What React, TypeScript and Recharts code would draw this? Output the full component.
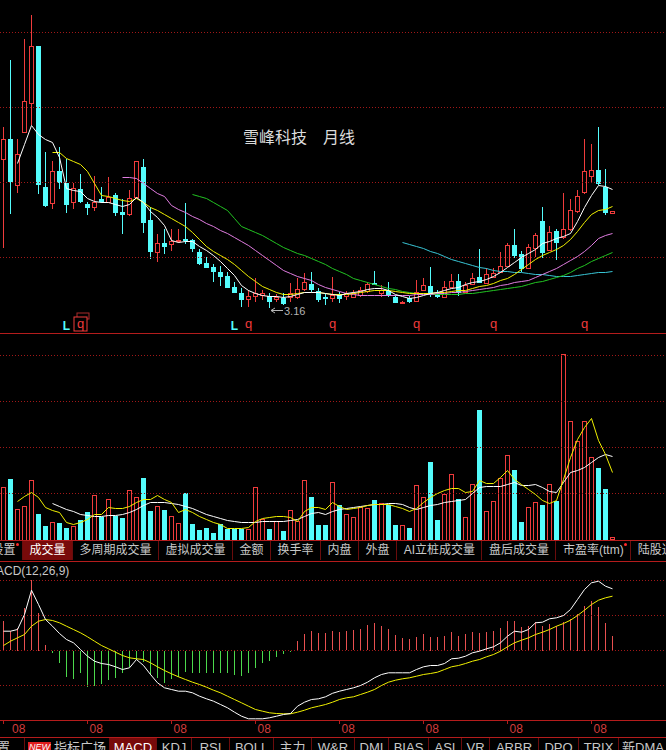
import React from 'react';
import { ComposedChart, Bar, Line, XAxis, YAxis, Scatter, ReferenceLine } from 'recharts';

// 雪峰科技 月线 — 88 monthly bars, one every 7px
const xTickIdx = [0, 12, 24, 36, 48, 60, 72, 84];
const xTickLabels = ['08', '08', '08', '08', '08', '08', '08', '08'];

const open = [
  17.96, 20.06, 15.46, 20.76, 23.66, 29.26, 15.26, 13.56, 16.76, 15.66,
  13.66, 15.06, 13.46, 13.16, 13.96, 13.76, 14.46, 12.76, 12.46, 14.26,
  17.16, 11.96, 8.76, 9.56, 9.46, 9.86, 10.06, 9.96, 8.76, 7.66,
  7.26, 6.76, 6.36, 5.26, 4.66, 4.06, 4.36, 4.46, 4.36, 4.06,
  4.16, 4.26, 4.26, 5.06, 5.56, 4.86, 4.26, 4.16, 4.46, 4.36,
  4.26, 4.46, 4.86, 5.66, 4.66, 4.86, 4.26, 3.66, 4.16, 3.86,
  4.96, 5.36, 4.56, 4.26, 5.26, 5.86, 4.76, 5.56, 6.26, 5.66,
  6.26, 6.76, 7.36, 9.46, 8.46, 7.16, 9.16, 11.86, 8.86, 10.86,
  10.16, 10.96, 12.76, 14.66, 16.26, 16.86, 15.16, 12.56,
];
const high = [
  21.16, 27.86, 19.96, 29.96, 32.36, 29.26, 18.66, 17.76, 19.16, 18.06,
  15.56, 16.56, 13.76, 16.26, 15.26, 16.16, 14.66, 13.96, 14.86, 17.86,
  17.96, 13.26, 10.46, 10.96, 10.96, 11.06, 13.66, 10.06, 9.06, 8.26,
  7.56, 7.36, 6.76, 5.76, 5.16, 4.96, 6.16, 4.96, 4.66, 4.56,
  4.66, 5.66, 6.16, 6.66, 6.76, 5.16, 4.66, 6.26, 4.76, 4.86,
  4.96, 5.26, 5.76, 6.86, 5.46, 5.76, 4.46, 3.86, 4.36, 5.96,
  6.16, 7.26, 4.96, 5.86, 6.56, 6.56, 5.76, 6.66, 9.06, 7.16,
  7.16, 8.66, 9.66, 11.06, 8.76, 9.46, 10.66, 13.26, 11.26, 10.96,
  14.66, 13.96, 14.86, 19.96, 19.56, 21.16, 17.06, 12.76,
];
const low = [
  9.16, 12.56, 14.66, 20.66, 21.46, 14.46, 13.26, 12.96, 14.96, 12.66,
  12.96, 13.66, 12.36, 12.76, 13.56, 13.66, 12.26, 10.56, 12.26, 13.96,
  10.66, 8.06, 7.76, 8.46, 8.76, 9.66, 9.56, 8.66, 7.46, 7.16,
  5.76, 5.36, 5.26, 4.66, 3.26, 3.26, 3.76, 3.96, 3.16, 3.76,
  3.46, 3.76, 4.06, 4.86, 4.76, 3.76, 3.46, 3.76, 3.66, 3.96,
  4.16, 4.26, 4.66, 5.46, 4.26, 4.26, 3.66, 3.56, 3.66, 3.76,
  4.86, 4.26, 4.16, 4.16, 5.16, 4.36, 4.66, 5.46, 5.66, 5.56,
  6.16, 6.66, 7.26, 8.16, 6.76, 7.06, 8.26, 8.16, 8.76, 7.96,
  9.96, 10.76, 12.56, 14.46, 15.66, 15.36, 12.36, 12.56,
];
const close = [
  20.06, 15.86, 18.56, 23.86, 29.26, 15.46, 13.46, 16.76, 15.66, 13.56,
  15.06, 13.86, 13.16, 13.66, 13.76, 14.26, 12.66, 12.46, 14.06, 17.76,
  11.76, 8.86, 9.56, 9.36, 9.76, 9.96, 9.96, 9.06, 7.66, 7.26,
  6.86, 6.36, 5.26, 4.76, 4.06, 4.36, 4.66, 4.66, 3.86, 4.26,
  3.66, 4.66, 5.06, 5.76, 5.06, 4.06, 4.16, 4.46, 4.16, 4.66,
  4.66, 4.96, 5.56, 5.56, 4.96, 4.56, 3.76, 3.76, 3.86, 4.76,
  5.46, 4.66, 4.36, 5.26, 5.86, 4.76, 5.46, 6.16, 5.76, 6.56,
  6.66, 7.36, 9.46, 8.46, 7.16, 9.16, 10.46, 8.76, 10.66, 9.76,
  10.96, 12.86, 14.26, 16.76, 16.86, 15.56, 12.66, 12.76,
];

// moving averages as drawn, each starting at its first visible bar
const ma5Start = 2;
const ma5 = [
  17.56, 19.46, 21.36, 20.46, 19.96, 19.66, 18.16, 15.06, 14.86, 14.76,
  14.06, 13.76, 13.66, 13.66, 13.46, 13.26, 13.46, 14.16, 13.66, 12.76,
  12.16, 11.36, 9.86, 9.66, 9.76, 9.76, 9.26, 8.86, 8.36, 7.76,
  7.06, 6.36, 5.36, 4.86, 4.56, 4.36, 4.26, 4.26, 4.16, 4.26,
  4.46, 4.66, 4.66, 4.66, 4.56, 4.46, 4.36, 4.56, 4.66, 4.76,
  4.96, 5.06, 5.06, 4.86, 4.46, 4.26, 4.06, 4.16, 4.36, 4.56,
  4.66, 4.86, 5.06, 5.16, 5.46, 5.66, 5.76, 5.96, 6.26, 6.66,
  7.16, 7.66, 8.16, 8.56, 8.96, 9.56, 9.76, 10.06, 10.26, 10.56,
  11.76, 13.16, 14.36, 15.36, 15.26, 14.96,
];
const ma10Start = 7;
const ma10 = [
  18.66, 18.66, 18.06, 17.76, 17.46, 16.76, 15.56, 14.36, 14.26, 14.06,
  13.86, 13.76, 14.06, 13.66, 13.16, 12.86, 12.46, 12.06, 11.66, 11.26,
  10.66, 9.96, 9.26, 8.76, 8.36, 7.96, 7.46, 6.86, 6.26, 5.76,
  5.26, 4.96, 4.66, 4.46, 4.46, 4.56, 4.66, 4.66, 4.66, 4.56,
  4.46, 4.46, 4.46, 4.56, 4.66, 4.76, 4.86, 4.86, 4.86, 4.76,
  4.66, 4.56, 4.56, 4.56, 4.56, 4.66, 4.66, 4.76, 4.86, 4.86,
  5.06, 5.26, 5.36, 5.56, 5.86, 6.06, 6.46, 6.96, 7.46, 7.96,
  8.36, 8.66, 8.96, 9.36, 9.96, 10.76, 11.66, 12.46, 12.86, 12.96,
  13.26,
];
const ma20Start = 17;
const ma20 = [
  16.16, 16.16, 16.06, 15.56, 15.06, 14.56, 14.26, 13.36, 12.96, 12.66,
  12.26, 11.96, 11.56, 11.26, 10.86, 10.56, 10.16, 9.76, 9.36, 8.86,
  8.36, 7.86, 7.36, 6.86, 6.56, 6.26, 6.06, 5.86, 5.46, 5.16,
  4.96, 4.76, 4.56, 4.46, 4.36, 4.36, 4.36, 4.36, 4.36, 4.36,
  4.36, 4.36, 4.46, 4.46, 4.46, 4.56, 4.56, 4.66, 4.66, 4.76,
  4.86, 4.96, 5.06, 5.16, 5.36, 5.46, 5.66, 5.76, 5.86, 6.16,
  6.46, 6.76, 7.06, 7.46, 7.86, 8.26, 8.76, 9.36, 10.06, 10.36,
  10.56,
];
const ma30Start = 27;
const ma30 = [
  14.46, 14.26, 14.06, 13.66, 13.26, 12.86, 12.06, 11.26, 10.96, 10.66,
  10.36, 9.96, 9.56, 9.16, 8.86, 8.56, 8.36, 8.06, 7.76, 7.46,
  7.06, 6.76, 6.46, 6.06, 5.86, 5.66, 5.46, 5.26, 5.06, 4.96,
  4.76, 4.66, 4.56, 4.56, 4.46, 4.46, 4.46, 4.46, 4.46, 4.56,
  4.56, 4.66, 4.76, 4.86, 4.96, 5.06, 5.16, 5.26, 5.46, 5.66,
  5.76, 5.96, 6.16, 6.36, 6.66, 7.06, 7.36, 7.76, 8.06, 8.36,
  8.66,
];
const ma60Start = 57;
const ma60 = [
  9.66, 9.46, 9.26, 9.06, 8.76, 8.56, 8.26, 7.96, 7.76, 7.56,
  7.36, 7.16, 7.06, 6.86, 6.76, 6.76, 6.66, 6.66, 6.56, 6.46,
  6.46, 6.36, 6.26, 6.26, 6.26, 6.36, 6.46, 6.56, 6.66, 6.66,
  6.76,
];

// 成交量 (万手)
const volume = [
  530, 610, 310, 340, 590, 260, 140, 180, 170, 120,
  140, 200, 280, 450, 230, 410, 240, 220, 500, 430,
  620, 290, 340, 300, 240, 170, 470, 160, 100, 120,
  70, 160, 110, 110, 110, 110, 530, 210, 110, 190,
  90, 300, 190, 590, 430, 150, 150, 580, 350, 260,
  230, 330, 320, 400, 370, 350, 150, 150, 120, 550,
  430, 780, 200, 460, 660, 410, 230, 560, 1300, 290,
  390, 620, 840, 700, 180, 330, 380, 350, 560, 390,
  1860, 1180, 980, 1190, 830, 720, 510, 30,
];
const volMa5Start = 2;
const volMa5 = [
  380, 430, 470, 420, 320, 290, 270, 170, 150, 170,
  200, 250, 250, 320, 310, 310, 330, 370, 400, 400,
  440, 400, 370, 270, 300, 270, 230, 200, 170, 150,
  110, 110, 110, 120, 180, 210, 220, 230, 230, 220,
  180, 280, 320, 320, 300, 370, 330, 300, 310, 320,
  340, 350, 350, 350, 330, 310, 280, 310, 370, 420,
  460, 490, 510, 510, 470, 480, 590, 560, 560, 620,
  690, 600, 550, 500, 450, 390, 360, 390, 600, 820,
  1000, 1120, 1210, 990, 850, 670,
];
const volMa10Start = 7;
const volMa10 = [
  360, 330, 300, 280, 250, 240, 230, 230, 240, 240,
  250, 270, 300, 340, 370, 370, 370, 360, 350, 330,
  310, 280, 250, 230, 210, 190, 180, 170, 170, 170,
  180, 180, 180, 180, 190, 200, 230, 260, 270, 250,
  280, 300, 310, 320, 330, 340, 350, 350, 360, 360,
  350, 320, 300, 320, 340, 350, 370, 380, 390, 400,
  460, 520, 530, 530, 530, 550, 570, 540, 540, 550,
  520, 480, 470, 570, 670, 690, 720, 770, 820, 850,
  830,
];

// MACD(12,26,9)
const macdHist = [
  2.93, 1.93, 2.27, 4.27, 7.03, 3.77, 0.6, -0.23, -1.23, -2.63,
  -2.83, -2.23, -3.57, -3.5, -3.3, -2.9, -2.73, -2.23, -1.57, -0.9,
  -1.07, -2.4, -2.73, -3.17, -2.83, -2.57, -2.07, -2.17, -2.17, -2.23,
  -2.23, -2.23, -2.23, -2.4, -2.5, -2.17, -1.73, -1.23, -0.97, -0.63,
  -0.3, -0.1, 0.93, 1.7, 2.0, 1.77, 1.77, 1.93, 1.83, 1.93,
  2.03, 2.2, 2.53, 2.7, 2.5, 2.1, 1.6, 1.27, 1.1, 1.33,
  1.7, 1.37, 1.33, 1.5, 1.83, 1.5, 1.7, 1.83, 1.77, 1.83,
  1.93, 2.27, 2.93, 2.93, 2.33, 2.5, 2.83, 2.5, 2.67, 2.43,
  2.83, 3.1, 3.67, 4.5, 4.93, 4.33, 2.77, 1.43,
];
const dif = [
  1.93, 1.93, 2.1, 3.6, 6.03, 4.6, 3.1, 2.43, 1.7, 1.1,
  0.77, 0.1, -0.57, -1.07, -1.3, -1.4, -1.63, -1.9, -1.73, -0.9,
  -1.5, -2.4, -3.23, -3.73, -3.9, -4.07, -4.07, -4.23, -4.57, -4.83,
  -5.07, -5.4, -5.73, -6.17, -6.57, -6.83, -6.83, -6.83, -6.73, -6.57,
  -6.4, -6.3, -5.57, -5.17, -4.9, -4.83, -4.63, -4.28, -4.07, -3.9,
  -3.73, -3.5, -3.17, -2.73, -2.4, -2.23, -2.23, -2.23, -2.23, -1.9,
  -1.63, -1.5, -1.5, -1.3, -0.83, -0.77, -0.57, -0.23, -0.07, 0.17,
  0.37, 0.77, 1.43, 1.93, 1.83, 2.1, 2.77, 2.83, 3.17, 3.27,
  3.5, 4.1, 5.1, 6.1, 6.77, 6.93, 6.43, 6.17,
];
const dea = [
  0.5, 0.93, 1.27, 1.6, 2.43, 2.93, 3.1, 3.0, 2.77, 2.43,
  2.1, 1.77, 1.37, 0.93, 0.5, 0.17, -0.17, -0.5, -0.73, -0.83,
  -0.9, -1.23, -1.63, -2.0, -2.33, -2.63, -2.9, -3.17, -3.4, -3.67,
  -3.97, -4.23, -4.57, -4.9, -5.23, -5.57, -5.9, -6.07, -6.23, -6.3,
  -6.33, -6.33, -6.17, -5.97, -5.73, -5.57, -5.4, -5.17, -4.9, -4.73,
  -4.63, -4.4, -4.17, -3.9, -3.5, -3.17, -2.97, -2.83, -2.73, -2.57,
  -2.4, -2.3, -2.17, -1.9, -1.63, -1.5, -1.3, -1.07, -0.9, -0.63,
  -0.4, -0.07, 0.37, 0.77, 1.03, 1.27, 1.6, 1.83, 2.1, 2.43,
  2.7, 3.03, 3.5, 4.03, 4.6, 5.03, 5.27, 5.43,
];

// signal marks under the candles
const markL = [9, 33];
const markQ = [11, 35, 47, 59, 70, 83];
const boxedQ = [11];

const volTabs = ['设置', '成交量', '多周期成交量', '虚拟成交量', '金额', '换手率', '内盘', '外盘', 'AI立桩成交量', '盘后成交量', '市盈率(ttm)', '陆股通持股'];
const volTabDots = ['设置', '市盈率(ttm)'];
const bottomTabs = ['设置', '指标广场', 'MACD', 'KDJ', 'RSI', 'BOLL', '主力', 'W&R', 'DMI', 'BIAS', 'ASI', 'VR', 'ARBR', 'DPO', 'TRIX', '新DMA'];
const bottomSeps = [-30, 23, 108, 155, 190, 228, 272, 310, 353, 387, 427, 460, 488, 537, 577, 617, 666];

const W = 666;
const X_DOMAIN: [number, number] = [-0.5, W / 7 - 0.5];
const PRICE_DOMAIN: [number, number] = [0.61, 33.91];
const priceGrid = [8.16, 15.66, 23.16, 30.66];
const MARK_LEVEL = 1.46;
const VOL_DOMAIN: [number, number] = [-5, 2035];
const volGrid = [460, 920, 1380, 1840];
const MACD_DOMAIN: [number, number] = [-6.95, 8.85];
const macdGrid = [-3.5, 0, 3.5, 7];

const UP = '#f03c3c';
const DOWN = '#54fcfc';
const GRID = '#a01818';
const AXIS = '#b41c1c';
const FONT = '"Liberation Sans", "Noto Sans CJK SC", sans-serif';

const pick = (arr: number[], start: number, i: number) => (i >= start && i - start < arr.length ? arr[i - start] : null);

const rows = open.map((o, i) => ({
  i,
  open: o,
  high: high[i],
  low: low[i],
  close: close[i],
  range: [low[i], high[i]],
  ma5: pick(ma5, ma5Start, i),
  ma10: pick(ma10, ma10Start, i),
  ma20: pick(ma20, ma20Start, i),
  ma30: pick(ma30, ma30Start, i),
  ma60: pick(ma60, ma60Start, i),
  vol: volume[i],
  volMa5: pick(volMa5, volMa5Start, i),
  volMa10: pick(volMa10, volMa10Start, i),
  hist: macdHist[i],
  dif: dif[i],
  dea: dea[i],
}));

const lowIdx = low.indexOf(Math.min(...low));

const markers = [
  ...markL.map((i) => ({ i, y: MARK_LEVEL, t: 'L', boxed: false })),
  ...markQ.map((i) => ({ i, y: MARK_LEVEL, t: 'q', boxed: boxedQ.includes(i) })),
];

// hollow 5px box made of 1px filled rects, so the outline stays crisp
function HollowBox({ k, top, bot, color, noBottom }: { k: number; top: number; bot: number; color: string; noBottom?: boolean }) {
  const h = Math.max(bot - top, 1);
  return (
    <g fill={color}>
      <rect x={k - 2} y={top} width={5} height={1} />
      <rect x={k - 2} y={top} width={1} height={h} />
      <rect x={k + 2} y={top} width={1} height={h} />
      {!noBottom && <rect x={k - 2} y={top + h - 1} width={5} height={1} />}
    </g>
  );
}

function Candle(props: any) {
  const { x, y, width, height, payload } = props;
  const { open: o, close: c, high: h, low: l, i } = payload;
  const span = h - l || 1;
  const py = (v: number) => y + ((h - v) / span) * height;
  const k = Math.floor(x + width / 2);
  const yh = Math.round(py(h));
  const yl = Math.round(py(l));
  const top = Math.round(py(Math.max(o, c)));
  const bot = Math.max(Math.round(py(Math.min(o, c))) + 1, top + 1);
  const up = c >= o;
  const note = i === lowIdx ? (
    <g>
      <line x1={k + 2} y1={yl + 2.5} x2={k + 14} y2={yl + 2.5} stroke="#b4b4b4" />
      <path d={`M${k + 6},${yl} L${k + 2},${yl + 2.5} L${k + 6},${yl + 5}`} fill="none" stroke="#b4b4b4" />
      <text x={k + 15} y={yl + 7} fontSize={11} fill="#b4b4b4" fontFamily={FONT}>{l.toFixed(2)}</text>
    </g>
  ) : null;
  if (up) {
    return (
      <g>
        <rect x={k} y={yh} width={1} height={Math.max(top - yh, 0)} fill={UP} />
        <rect x={k} y={bot} width={1} height={Math.max(yl - bot, 0)} fill={UP} />
        <HollowBox k={k} top={top} bot={bot} color={UP} />
        {note}
      </g>
    );
  }
  return (
    <g>
      <rect x={k} y={yh} width={1} height={Math.max(yl - yh, 1)} fill={DOWN} />
      <rect x={k - 2} y={top} width={5} height={bot - top} fill={DOWN} />
      {note}
    </g>
  );
}

function VolBar(props: any) {
  const { x, y, width, height, payload } = props;
  const k = Math.floor(x + width / 2);
  const top = Math.round(y);
  const bot = Math.round(y + height);
  if (payload.close >= payload.open) {
    return <HollowBox k={k} top={top} bot={bot} color={UP} noBottom={bot - top > 3} />;
  }
  return <rect x={k - 2} y={top} width={5} height={Math.max(bot - top, 1)} fill={DOWN} />;
}

function MacdBar(props: any) {
  const { x, y, width, height, payload } = props;
  let top = y;
  let h = height;
  if (h < 0) {
    top = y + h;
    h = -h;
  }
  return (
    <rect
      x={Math.floor(x + width / 2)}
      y={Math.round(top)}
      width={1}
      height={Math.max(Math.round(h), 1)}
      fill={payload.hist >= 0 ? '#e85050' : '#4cd84c'}
    />
  );
}

function Marker(props: any) {
  const { cx, cy, payload } = props;
  const isL = payload.t === 'L';
  const x = Math.floor(cx) + 0.5;
  return (
    <g>
      {payload.boxed && (
        <g>
          <rect x={x - 3.5} y={cy - 11.5} width={12} height={6} fill="none" stroke={UP} strokeOpacity={0.7} />
          <rect x={x - 6.5} y={cy - 7.5} width={13} height={14} fill="#000" stroke={UP} />
        </g>
      )}
      <text x={x} y={isL ? cy + 5 : cy + 3} textAnchor="middle" fontSize={isL ? 12 : 13} fontWeight={isL ? 700 : 400} fill={isL ? DOWN : UP} fontFamily={FONT}>
        {payload.t}
      </text>
    </g>
  );
}

function MonthTick(props: any) {
  const { x, y, payload } = props;
  const k = xTickIdx.indexOf(payload.value);
  const tx = Math.floor(x) + 0.5;
  return (
    <g>
      <line x1={tx} x2={tx} y1={y} y2={y + 4} stroke={AXIS} />
      <text x={Math.max(tx + 2, 12)} y={y + 13} fontSize={12} fill="#d23c3c" fontFamily={FONT}>
        {xTickLabels[k]}
      </text>
    </g>
  );
}

const hline = (top: number, color = AXIS) => (
  <div style={{ position: 'absolute', left: 0, top, width: W, height: 1, background: color }} />
);

const noMargin = { top: 0, right: 0, bottom: 0, left: 0 };

export default function App() {
  return (
    <div style={{ position: 'absolute', left: 0, top: 0, width: W, height: 750, background: '#000', overflow: 'hidden', fontFamily: FONT }}>
      {/* price panel */}
      <div style={{ position: 'absolute', left: 0, top: 0 }}>
        <ComposedChart width={W} height={333} data={rows} margin={noMargin}>
          <XAxis dataKey="i" type="number" domain={X_DOMAIN} hide />
          <YAxis domain={PRICE_DOMAIN} hide />
          {priceGrid.map((v) => (
            <ReferenceLine key={v} y={v} stroke={GRID} strokeDasharray="1 2" />
          ))}
          <Bar dataKey="range" barSize={5} shape={Candle} isAnimationActive={false} />
          <Line type="linear" dataKey="ma60" stroke="#38c4d4" strokeWidth={1} dot={false} isAnimationActive={false} />
          <Line type="linear" dataKey="ma30" stroke="#22c422" strokeWidth={1} dot={false} isAnimationActive={false} />
          <Line type="linear" dataKey="ma20" stroke="#e07ce0" strokeWidth={1} dot={false} isAnimationActive={false} />
          <Line type="linear" dataKey="ma10" stroke="#f0f000" strokeWidth={1} dot={false} isAnimationActive={false} />
          <Line type="linear" dataKey="ma5" stroke="#ffffff" strokeWidth={1} dot={false} isAnimationActive={false} />
          <Scatter data={markers} dataKey="y" shape={Marker} isAnimationActive={false} />
        </ComposedChart>
      </div>
      <div style={{ position: 'absolute', left: 243, top: 130, fontSize: 16, lineHeight: '16px', color: '#dcdcdc', whiteSpace: 'nowrap' }}>
        雪峰科技　月线
      </div>
      {hline(333)}

      {/* volume panel */}
      <div style={{ position: 'absolute', left: 0, top: 336 }}>
        <ComposedChart width={W} height={204} data={rows} margin={noMargin}>
          <XAxis dataKey="i" type="number" domain={X_DOMAIN} hide />
          <YAxis domain={VOL_DOMAIN} hide />
          {volGrid.map((v) => (
            <ReferenceLine key={v} y={v} stroke={GRID} strokeDasharray="1 2" />
          ))}
          <Bar dataKey="vol" barSize={5} shape={VolBar} isAnimationActive={false} />
          <Line type="linear" dataKey="volMa10" stroke="#ffffff" strokeWidth={1} dot={false} isAnimationActive={false} />
          <Line type="linear" dataKey="volMa5" stroke="#f0f000" strokeWidth={1} dot={false} isAnimationActive={false} />
        </ComposedChart>
      </div>
      {hline(540)}

      {/* volume tabs */}
      <div style={{ position: 'absolute', left: -15, top: 541, height: 19, display: 'flex', fontSize: 12, lineHeight: '19px', whiteSpace: 'nowrap' }}>
        {volTabs.map((t) => (
          <div
            key={t}
            style={{
              position: 'relative',
              padding: '0 6.5px',
              borderRight: '1px solid #6a0c0c',
              background: t === '成交量' ? '#780a0a' : 'transparent',
              color: t === '成交量' ? '#ffffff' : '#c8c8c8',
            }}
          >
            {t}
            {volTabDots.includes(t) && (
              <span style={{ position: 'absolute', right: 3, top: 2, width: 3, height: 3, borderRadius: 2, background: '#ff2a2a' }} />
            )}
          </div>
        ))}
      </div>
      {hline(561)}

      {/* MACD panel */}
      <div style={{ position: 'absolute', left: 0, top: 562 }}>
        <ComposedChart width={W} height={175} data={rows} margin={noMargin}>
          <XAxis
            dataKey="i"
            type="number"
            domain={X_DOMAIN}
            ticks={xTickIdx}
            interval={0}
            tick={MonthTick}
            tickSize={0}
            tickMargin={0}
            axisLine={false}
            tickLine={false}
            height={17}
          />
          <YAxis domain={MACD_DOMAIN} hide />
          {macdGrid.map((v) => (
            <ReferenceLine key={v} y={v} stroke={GRID} strokeDasharray="1 2" />
          ))}
          <Bar dataKey="hist" barSize={1} shape={MacdBar} isAnimationActive={false} />
          <Line type="linear" dataKey="dea" stroke="#f0f000" strokeWidth={1} dot={false} isAnimationActive={false} />
          <Line type="linear" dataKey="dif" stroke="#ffffff" strokeWidth={1} dot={false} isAnimationActive={false} />
        </ComposedChart>
      </div>
      <div style={{ position: 'absolute', left: -14, top: 564, fontSize: 12, lineHeight: '14px', color: '#c8c8c8', whiteSpace: 'nowrap' }}>
        MACD(12,26,9)
      </div>
      {hline(720)}
      {hline(737)}

      {/* indicator tabs */}
      {bottomTabs.map((t, k) => {
        const left = bottomSeps[k];
        const width = bottomSeps[k + 1] - left;
        const sel = t === 'MACD';
        return (
          <div
            key={t + k}
            style={{
              position: 'absolute',
              left: left + 1,
              top: 738,
              width: width - 1,
              height: 20,
              borderLeft: k > 0 ? '1px solid #6a0c0c' : 'none',
              background: sel ? '#780a0a' : 'transparent',
              color: sel ? '#ffffff' : '#c8c8c8',
              fontSize: 13,
              lineHeight: '20px',
              textAlign: t === '指标广场' ? 'left' : 'center',
              whiteSpace: 'nowrap',
            }}
          >
            {t === '指标广场' ? (
              <span>
                <span style={{ display: 'inline-block', marginLeft: 3, marginRight: 3, width: 23, height: 11, lineHeight: '11px', background: '#e01e1e', color: '#fff', fontSize: 9, fontStyle: 'italic', textAlign: 'center', verticalAlign: 'top', marginTop: 4 }}>
                  NEW
                </span>
                {t}
              </span>
            ) : (
              t
            )}
          </div>
        );
      })}
    </div>
  );
}
